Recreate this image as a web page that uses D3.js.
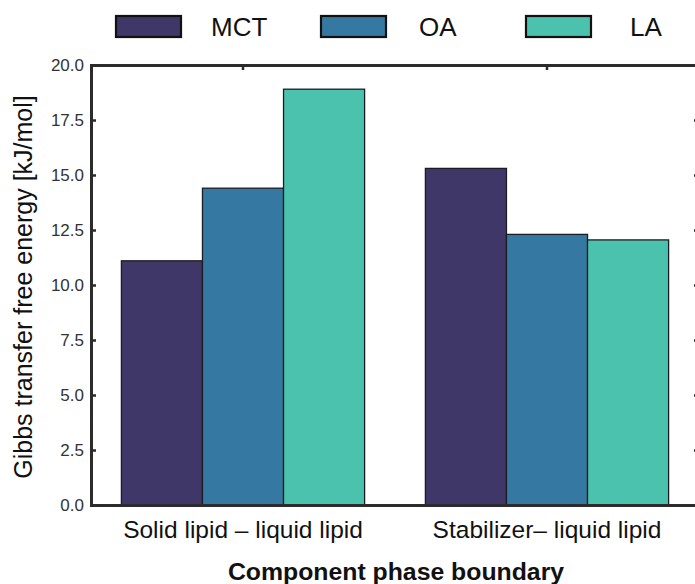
<!DOCTYPE html>
<html>
<head>
<meta charset="utf-8">
<script src="https://cdn.jsdelivr.net/npm/d3@7"></script>
<style>
  html, body { margin: 0; padding: 0; background: #fff; }
  svg { display: block; font-family: "Liberation Sans", Arial, sans-serif; }
</style>
</head>
<body>
<svg id="chart" width="695" height="584"></svg>
<script>
// Phase boundaries and lipid series
const categories = ["Solid lipid \u2013 liquid lipid", "Stabilizer\u2013 liquid lipid"];
const seriesNames = ["MCT", "OA", "LA"];
const seriesColors = ["#3f3768", "#3579a3", "#4bc2ad"];
const mctValues = [11.1, 15.3];
const oaValues = [14.4, 12.3];
const laValues = [18.9, 12.05];
const yTicks = [0, 2.5, 5, 7.5, 10, 12.5, 15, 17.5, 20];

const seriesValues = [mctValues, oaValues, laValues];
const rows = categories.map((c, i) => ({
  category: c,
  values: seriesNames.map((s, j) => ({ series: s, value: seriesValues[j][i] }))
}));

const svg = d3.select("#chart");
const plot = { left: 91, right: 699, top: 65, bottom: 505 };

const x = d3.scaleBand().domain(categories).range([plot.left, plot.right]).padding(0);
const xInner = d3.scaleBand().domain(seriesNames).range([0, x.bandwidth()]).paddingInner(0).paddingOuter(0.375);
const y = d3.scaleLinear().domain([0, 20]).range([plot.bottom, plot.top]);
const color = d3.scaleOrdinal().domain(seriesNames).range(seriesColors);

// Bars
const groups = svg.append("g").selectAll("g")
  .data(rows).join("g")
  .attr("transform", d => `translate(${x(d.category)},0)`);

groups.selectAll("rect")
  .data(d => d.values).join("rect")
  .attr("x", d => xInner(d.series))
  .attr("y", d => y(d.value))
  .attr("width", xInner.bandwidth())
  .attr("height", d => y(0) - y(d.value))
  .attr("fill", d => color(d.series))
  .attr("stroke", "#1c1c24")
  .attr("stroke-width", 1.3);

// Axes (inward ticks on all sides)
const axisColor = "#2b2b2b";
const yLeft = svg.append("g").attr("transform", `translate(${plot.left},0)`)
  .call(d3.axisLeft(y).tickValues(yTicks).tickFormat(d3.format(".1f")).tickSize(-5).tickPadding(7));
const yRight = svg.append("g").attr("transform", `translate(${plot.right},0)`)
  .call(d3.axisRight(y).tickValues(yTicks).tickFormat("").tickSize(-5));
const xTop = svg.append("g").attr("transform", `translate(0,${plot.top})`)
  .call(d3.axisTop(x).tickFormat("").tickSize(-5));
const xBottom = svg.append("g").attr("transform", `translate(0,${plot.bottom})`)
  .call(d3.axisBottom(x).tickSize(0).tickPadding(16));

[yLeft, yRight, xTop, xBottom].forEach(g => {
  g.select(".domain").attr("stroke", axisColor).attr("stroke-width", 3);
  g.selectAll(".tick line").attr("stroke", axisColor).attr("stroke-width", 2.5);
});
yLeft.selectAll(".tick text").attr("font-size", 17).attr("fill", "#333")
  .attr("font-family", "Liberation Sans, Arial, sans-serif");
xBottom.selectAll(".tick text").attr("font-size", 24.5).attr("fill", "#111")
  .attr("font-family", "Liberation Sans, Arial, sans-serif");

// Axis titles
svg.append("text")
  .attr("transform", `translate(32,${(plot.top + plot.bottom) / 2 + 2}) rotate(-90)`)
  .attr("text-anchor", "middle")
  .attr("font-size", 25)
  .attr("fill", "#111")
  .text("Gibbs transfer free energy [kJ/mol]");

svg.append("text")
  .attr("x", 396)
  .attr("y", 580)
  .attr("text-anchor", "middle")
  .attr("font-size", 24.8)
  .attr("font-weight", "bold")
  .attr("fill", "#111")
  .text("Component phase boundary");

// Legend
const legendBoxX = [116, 321, 526];
const legendTextX = [211, 419, 630];
const legend = svg.append("g").selectAll("g")
  .data(seriesNames).join("g");
legend.append("rect")
  .attr("x", (d, i) => legendBoxX[i]).attr("y", 16)
  .attr("width", 65).attr("height", 21)
  .attr("fill", d => color(d))
  .attr("stroke", "#111").attr("stroke-width", 2.2);
legend.append("text")
  .attr("x", (d, i) => legendTextX[i]).attr("y", 36)
  .attr("font-size", 26)
  .attr("fill", "#111")
  .text(d => d);
</script>
</body>
</html>
